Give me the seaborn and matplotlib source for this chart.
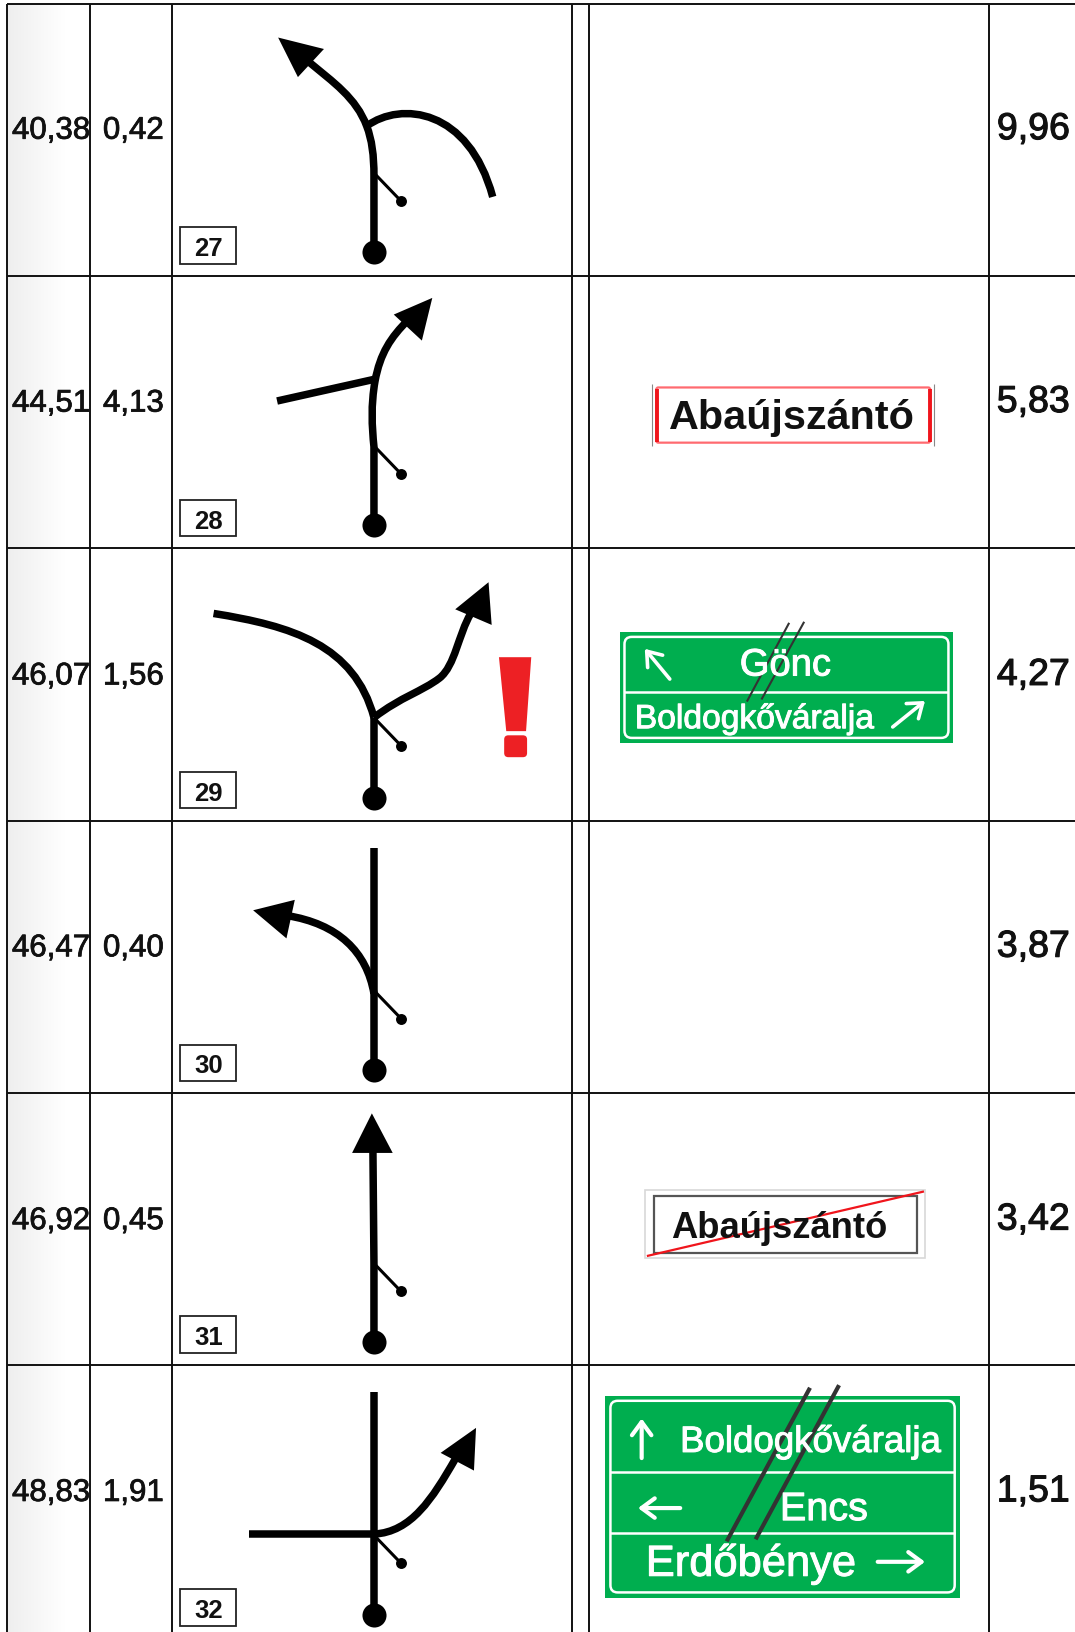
import seaborn as sns
import numpy as np
from matplotlib import pyplot as plt
from matplotlib import patheffects
from matplotlib.patches import FancyBboxPatch, PathPatch, Rectangle
from matplotlib.path import Path

sns.set_style("white")
plt.rcParams['font.family'] = ['Liberation Sans', 'DejaVu Sans']

# table values
total_km = ["40,38", "44,51", "46,07", "46,47", "46,92", "48,83"]
part_km = ["0,42", "4,13", "1,56", "0,40", "0,45", "1,91"]
left_km = ["9,96", "5,83", "4,27", "3,87", "3,42", "1,51"]
tulip_no = ["27", "28", "29", "30", "31", "32"]
place_name = "Abaújszántó"
sign_29_names = ["Gönc", "Boldogkőváralja"]
sign_32_names = ["Boldogkőváralja", "Encs", "Erdőbénye"]

GREEN = "#00ae4f"
DARK = "#333333"

# axes run in pixels of the 1032 wide view of the picture
row_lines = [5, 266, 527.5, 789, 1050.5, 1312]
col_lines = [7, 86, 165, 549, 565, 949]
text_rows = [127, 389, 651, 912, 1174, 1435]
right_rows = [125, 387, 649, 910, 1172, 1433]
box_tops = [219, 481, 742, 1004, 1265, 1527]
stem_x = 359
ROAD = 5.4


def heavy(color, w=0.55):
    # the scan's text is a bit fatter than the plain font
    return [patheffects.withStroke(linewidth=w, foreground=color)]


def stroke(ax, xs, ys, lw=ROAD, color="black", cap="butt"):
    sns.lineplot(x=xs, y=ys, sort=False, estimator=None, color=color,
                 linewidth=lw, solid_capstyle=cap, ax=ax)


def road(ax, pts):
    # first point, then 3 bezier points per segment
    codes = [Path.MOVETO] + [Path.CURVE4] * (len(pts) - 1)
    ax.add_patch(PathPatch(Path(pts, codes), fill=False, lw=ROAD, ec="black", capstyle="butt"))


def head(ax, tip, a, b):
    ax.fill([tip[0], a[0], b[0]], [tip[1], a[1], b[1]], color="black", lw=0, zorder=4)


def dot(ax, x, y, size):
    sns.scatterplot(x=[x], y=[y], s=size, color="black", linewidth=0, ax=ax, zorder=4)


def tulip_base(ax, row_y, tick_y):
    # big start dot and the small tick
    dot(ax, stem_x, row_y, 300)
    stroke(ax, [stem_x, 385], [tick_y, tick_y + 27], lw=2.2)
    dot(ax, 385, tick_y + 27, 62)


def arrow(ax, start, end, lw=2.6, hl=0.95, hw=0.7):
    ax.annotate("", xy=end, xytext=start,
                arrowprops=dict(arrowstyle=f"->,head_length={hl},head_width={hw}",
                                color="white", lw=lw, shrinkA=0, shrinkB=0))


def green_sign(ax, x0, y0, x1, y1, pad, dividers):
    ax.add_patch(Rectangle((x0, y0), x1 - x0, y1 - y0, fc=GREEN, ec="none"))
    ax.add_patch(FancyBboxPatch((x0 + pad, y0 + pad), x1 - x0 - 2 * pad, y1 - y0 - 2 * pad,
                                boxstyle="round,pad=0,rounding_size=7", fc="none", ec="white", lw=1.8))
    for d in dividers:
        stroke(ax, [x0 + pad, x1 - pad], [d, d], lw=1.8, color="white")


def sign_text(ax, x, y, s, size):
    ax.text(x, y, s, fontsize=size, color="white", ha="center", va="center",
            path_effects=heavy("white", 0.7))


fig = plt.figure(figsize=(10.75, 16.33), dpi=100)
ax = fig.add_axes([0, 0, 1, 1])

# shaded first column
shade = sns.blend_palette(["#eeeeee", "#ffffff"], as_cmap=True)
ax.imshow(np.linspace(0, 1, 80).reshape(1, -1), cmap=shade, aspect="auto",
          extent=(7, 62, 1568, 5), zorder=0)

# grid
for y in row_lines:
    stroke(ax, [7, 1032], [y, y], lw=1.4, color="#111111")
for x in col_lines:
    stroke(ax, [x, x], [5, 1568], lw=1.4, color="#111111")

# table text
for i in range(6):
    ax.text(49, text_rows[i] - 0.5, total_km[i], fontsize=22.5, ha="center", va="center", color="#111111",
            path_effects=heavy("#111111"))
    ax.text(128, text_rows[i] - 0.5, part_km[i], fontsize=22.5, ha="center", va="center", color="#111111",
            path_effects=heavy("#111111"))
    ax.text(992, right_rows[i], left_km[i], fontsize=27, ha="center", va="center", color="#111111",
            path_effects=heavy("#111111", 0.8))
    ax.add_patch(Rectangle((173, box_tops[i]), 54, 35, fc="white", ec="#222222", lw=1.3))
    ax.text(200, box_tops[i] + 20, tulip_no[i], fontsize=18.5, fontweight="bold",
            ha="center", va="center", color="#111111")

# 27
tulip_base(ax, 243, 167)
road(ax, [(359, 243), (359, 220), (359, 190), (359, 170), (359, 150), (357, 135), (352, 122),
          (342, 95), (320, 80), (296, 60)])
road(ax, [(352, 122), (385, 98), (450, 105), (473, 190)])
head(ax, (267, 37), (311, 48), (286, 75))

# 28
tulip_base(ax, 505, 429)
road(ax, [(359, 505), (359, 480), (359, 450), (359, 430), (357, 410), (356, 390), (360, 367),
          (365, 340), (375, 325), (392, 308)])
stroke(ax, [360, 266], [365, 386])
head(ax, (415, 287), (378, 303), (405, 328))

# 29
tulip_base(ax, 767, 690)
stroke(ax, [stem_x, stem_x], [767, 690])
road(ax, [(359, 690), (340, 620), (280, 602), (205, 590)])
road(ax, [(359, 690), (385, 670), (405, 665), (422, 652), (437, 640), (440, 610), (452, 590)])
head(ax, (469, 560), (437, 586), (472, 601))
# warning mark
ax.fill([479, 510, 505, 486], [632, 632, 703, 703], color="#ed2024", lw=0)
ax.add_patch(FancyBboxPatch((484, 707), 22, 21, boxstyle="round,pad=0,rounding_size=4", fc="#ed2024", ec="none"))

# 30
tulip_base(ax, 1028, 952)
stroke(ax, [stem_x, stem_x], [1028, 815])
road(ax, [(359, 955), (352, 915), (325, 888), (275, 880)])
head(ax, (243, 875), (283, 865), (275, 902))

# 31
tulip_base(ax, 1290, 1214)
stroke(ax, [stem_x, 359, 358], [1290, 1214, 1105])
head(ax, (357, 1070), (338, 1108), (377, 1108))

# 32
tulip_base(ax, 1552, 1475)
stroke(ax, [stem_x, stem_x], [1552, 1338])
stroke(ax, [239, stem_x], [1474, 1474])
road(ax, [(359, 1474), (395, 1472), (415, 1440), (437, 1402)])
head(ax, (457, 1372), (423, 1396), (455, 1413))

# sign at 28
ax.add_patch(FancyBboxPatch((630, 373), 263, 53, boxstyle="round,pad=0,rounding_size=2",
                            fc="white", ec="#ff6a70", lw=1.6))
stroke(ax, [630.5, 630.5], [374, 425], lw=2.8, color="#f0151c")
stroke(ax, [892.5, 892.5], [374, 425], lw=2.8, color="#f0151c")
stroke(ax, [626, 626], [370, 429], lw=0.8, color="#888888")
stroke(ax, [897, 897], [370, 429], lw=0.8, color="#888888")
ax.text(760, 401, place_name, fontsize=29.8, fontweight="bold", ha="center", va="center", color="#111111")

# sign at 29
green_sign(ax, 595, 608, 915, 714, 4.5, [665])
sign_text(ax, 754, 640, sign_29_names[0], 27.5)
sign_text(ax, 724, 692, sign_29_names[1], 24.2)
arrow(ax, (643, 653), (619, 624))
arrow(ax, (857, 699), (888, 674))
stroke(ax, [757.6, 717], [599, 674.6], lw=1.5, color=DARK)
stroke(ax, [772, 731], [598, 672.6], lw=1.5, color=DARK)

# sign at 31
ax.add_patch(Rectangle((619, 1144), 269, 65, fc="white", ec="#d8d8d8", lw=1.2))
ax.add_patch(Rectangle((628, 1149), 252, 55, fc="white", ec="#555555", lw=1.6))
ax.text(748, 1180, place_name, fontsize=26.2, fontweight="bold", ha="center", va="center", color="#111111")
stroke(ax, [621, 887], [1207, 1145], lw=1.6, color="#f0151c")

# sign at 32
green_sign(ax, 581, 1341, 921.5, 1535, 5, [1414.6, 1472.8])
sign_text(ax, 778, 1386, sign_32_names[0], 26.4)
sign_text(ax, 791, 1450, sign_32_names[1], 28.5)
sign_text(ax, 721, 1503, sign_32_names[2], 31.3)
arrow(ax, (616, 1401), (616, 1363), lw=3)
arrow(ax, (653, 1449), (612.5, 1449), lw=3)
arrow(ax, (842.6, 1500.6), (888, 1500.6), lw=3)
stroke(ax, [777.6, 697.6], [1333.5, 1481], lw=3, color=DARK)
stroke(ax, [805.5, 725.4], [1331, 1479], lw=3, color=DARK)

ax.set_xlim(0, 1032)
ax.set_ylim(1568, 0)
ax.axis("off")
fig.savefig("out.png", dpi=100)
